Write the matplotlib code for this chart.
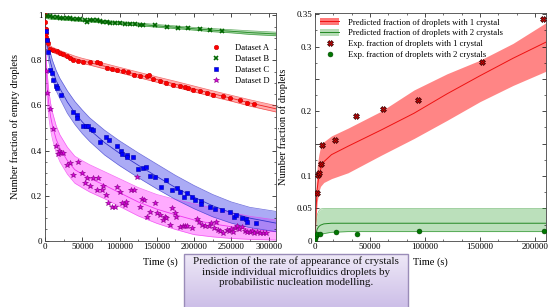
import numpy as np
import matplotlib
matplotlib.use('Agg')
import matplotlib.pyplot as plt
from matplotlib.patches import Patch, Rectangle
from matplotlib.lines import Line2D
from matplotlib.ticker import MultipleLocator

plt.rcParams['font.family'] = ['Liberation Serif', 'DejaVu Serif']
plt.rcParams['mathtext.fontset'] = 'stix'

# ---- left panel: fraction of empty droplets ----
t_model = [0, 1000, 2000, 3000, 5000, 7500, 10000, 15000, 20000, 30000, 40000, 50000,
           60000, 80000, 100000, 125000, 150000, 175000, 200000, 225000, 250000, 275000, 310000]

a_mid = [1.0, 0.93, 0.9, 0.88, 0.862, 0.853, 0.847, 0.840, 0.833, 0.820, 0.808, 0.798,
         0.790, 0.774, 0.757, 0.736, 0.715, 0.694, 0.673, 0.652, 0.632, 0.611, 0.585]
a_up = [1.0, 0.94, 0.91, 0.89, 0.873, 0.864, 0.858, 0.851, 0.844, 0.831, 0.819, 0.809,
        0.801, 0.786, 0.769, 0.748, 0.727, 0.707, 0.686, 0.665, 0.645, 0.625, 0.599]
a_lo = [1.0, 0.92, 0.89, 0.87, 0.851, 0.842, 0.836, 0.829, 0.822, 0.809, 0.797, 0.787,
        0.779, 0.762, 0.745, 0.724, 0.703, 0.681, 0.66, 0.639, 0.619, 0.597, 0.571]

b_mid = [1.0, 0.993, 0.992, 0.991, 0.99, 0.989, 0.988, 0.987, 0.986, 0.983, 0.981, 0.978,
         0.976, 0.971, 0.966, 0.96, 0.953, 0.947, 0.94, 0.934, 0.929, 0.923, 0.917]
b_up = [1.0, 0.999, 0.998, 0.997, 0.996, 0.995, 0.994, 0.993, 0.992, 0.989, 0.987, 0.984,
        0.982, 0.977, 0.972, 0.966, 0.959, 0.953, 0.946, 0.941, 0.936, 0.931, 0.925]
b_lo = [1.0, 0.987, 0.986, 0.985, 0.984, 0.983, 0.982, 0.981, 0.98, 0.977, 0.975, 0.972,
        0.97, 0.965, 0.96, 0.954, 0.947, 0.941, 0.934, 0.927, 0.922, 0.915, 0.909]

c_mid = [1.0, 0.93, 0.895, 0.87, 0.83, 0.79, 0.76, 0.71, 0.675, 0.615, 0.567, 0.527,
         0.492, 0.435, 0.388, 0.335, 0.285, 0.236, 0.193, 0.155, 0.124, 0.1, 0.078]
c_up = [1.0, 0.95, 0.92, 0.9, 0.865, 0.83, 0.8, 0.755, 0.72, 0.665, 0.618, 0.58,
        0.545, 0.49, 0.443, 0.39, 0.34, 0.29, 0.245, 0.205, 0.172, 0.148, 0.13]
c_lo = [1.0, 0.91, 0.87, 0.84, 0.795, 0.75, 0.72, 0.665, 0.63, 0.565, 0.516, 0.475,
        0.44, 0.38, 0.333, 0.28, 0.23, 0.183, 0.142, 0.106, 0.078, 0.058, 0.04]

d_mid = [1.0, 0.82, 0.74, 0.68, 0.61, 0.55, 0.51, 0.45, 0.41, 0.355, 0.315, 0.295,
         0.277, 0.246, 0.213, 0.172, 0.14, 0.115, 0.092, 0.075, 0.062, 0.051, 0.04]
d_up = [1.0, 0.86, 0.79, 0.74, 0.67, 0.61, 0.57, 0.51, 0.47, 0.415, 0.375, 0.355,
        0.337, 0.306, 0.275, 0.236, 0.205, 0.183, 0.164, 0.145, 0.125, 0.108, 0.092]
d_lo = [1.0, 0.78, 0.69, 0.62, 0.55, 0.49, 0.45, 0.39, 0.35, 0.295, 0.255, 0.235,
        0.216, 0.186, 0.152, 0.11, 0.077, 0.05, 0.027, 0.017, 0.01, 0.006, 0.003]

# experimental points
a_t = [0, 500, 1000, 1500, 2000, 3000, 4000, 6700, 11200, 15700, 20100, 24600, 29100, 33500,
       38000, 44700, 51400, 60400, 69300, 73800, 82800, 89500, 96200, 105000, 112000, 119000,
       128000, 137000, 139000, 145000, 154000, 163000, 172000, 181000, 188000, 192000, 199000,
       208000, 217000, 226000, 239000, 248000, 262000, 271000, 280000]
a_v = [1.0, 0.97, 0.94, 0.92, 0.905, 0.89, 0.875, 0.851, 0.845, 0.840, 0.833, 0.826, 0.818, 0.811,
       0.803, 0.796, 0.794, 0.793, 0.791, 0.788, 0.766, 0.761, 0.758, 0.751, 0.748, 0.736,
       0.732, 0.729, 0.735, 0.717, 0.707, 0.699, 0.692, 0.685, 0.682, 0.677, 0.670,
       0.662, 0.655, 0.648, 0.640, 0.633, 0.625, 0.613, 0.606]

b_t = [2240, 6710, 11180, 15660, 20130, 24600, 29080, 33550, 38030, 42500, 46980, 53690, 56820,
       60400, 64870, 69340, 73820, 78290, 82760, 87240, 93950, 100660, 107370, 114080, 120790,
       127500, 131970, 147630, 163290, 178940, 192360, 208020, 221440, 237100]
b_v = [0.998, 0.996, 0.993, 0.991, 0.99, 0.988, 0.987, 0.987, 0.985, 0.984, 0.984, 0.978, 0.969,
       0.981, 0.981, 0.978, 0.975, 0.972, 0.969, 0.966, 0.966, 0.964, 0.963, 0.961, 0.96,
       0.958, 0.957, 0.958, 0.948, 0.945, 0.942, 0.939, 0.936, 0.929]

c_t = [1000, 2500, 4500, 6700, 9000, 11000, 14800, 16000, 22000, 37000, 42500, 43000, 51000, 55000,
       58000, 62000, 64000, 74000, 82000, 86000, 96000, 102000, 103000, 110000, 110500, 118500,
       125000, 132000, 136000, 141000, 148000, 155000, 162000, 170000, 177500, 181000, 187000,
       190000, 197000, 201000, 209000, 210000, 221000, 228000, 237000, 248000, 253000, 256000,
       264000, 270000, 271000, 283000]
c_v = [0.93, 0.89, 0.837, 0.759, 0.744, 0.714, 0.688, 0.677, 0.648, 0.569, 0.559, 0.544, 0.51, 0.51,
       0.508, 0.497, 0.493, 0.436, 0.458, 0.445, 0.418, 0.396, 0.385, 0.38, 0.373, 0.373,
       0.317, 0.322, 0.329, 0.288, 0.284, 0.24, 0.27, 0.225, 0.233, 0.218, 0.196,
       0.21, 0.196, 0.181, 0.175, 0.162, 0.151, 0.14, 0.136, 0.129, 0.107, 0.115,
       0.1, 0.095, 0.085, 0.08]

d_t = [1300, 3100, 6700, 11000, 14800, 17900, 19000, 22000, 24600, 29000, 33500, 38000, 44700,
       49000, 53700, 56800, 60400, 64000, 69400, 71500, 76000, 78000, 81900, 85000, 89500, 94000,
       96000, 100600, 103000, 107000, 109000, 116000, 119000, 123000, 127500, 130000, 133000,
       136500, 141000, 147600, 150700, 154000, 158000, 161000, 163000, 167700, 170000, 174500,
       176000, 181000, 185000, 188000, 191000, 197000, 203500, 207000, 211000, 214600, 220000,
       223000, 227000, 229700, 232000, 235000, 239000, 244000, 247000, 250000, 252000, 255000,
       258000, 260000, 264000, 268000, 271000, 275000, 278000, 281000, 285000, 288000, 292000, 296000]
d_v = [0.751, 0.655, 0.584, 0.495, 0.421, 0.385, 0.396, 0.39, 0.388, 0.336, 0.344, 0.292, 0.347,
       0.3, 0.255, 0.277, 0.243, 0.277, 0.225, 0.277, 0.225, 0.243, 0.203, 0.166, 0.151, 0.148,
       0.237, 0.218, 0.169, 0.159, 0.17, 0.225, 0.225, 0.284, 0.151, 0.184, 0.18,
       0.107, 0.129, 0.166, 0.122, 0.113, 0.092, 0.107, 0.1, 0.07, 0.144, 0.122,
       0.107, 0.062, 0.065, 0.063, 0.063, 0.056, 0.096, 0.085, 0.07, 0.063, 0.063,
       0.078, 0.056, 0.081, 0.047, 0.041, 0.036, 0.048, 0.045, 0.05, 0.04, 0.055,
       0.063, 0.05, 0.059, 0.044, 0.04, 0.04, 0.045, 0.036, 0.04, 0.036, 0.033, 0.033]

# ---- right panel: fraction of droplets with 1 / 2 crystals ----
t_pred = [0, 1000, 2000, 3500, 5000, 8000, 15000, 30000, 60000, 90000, 120000, 150000, 180000, 210000]
p1_mid = [0, 0.05, 0.08, 0.1, 0.11, 0.122, 0.133, 0.146, 0.171, 0.197, 0.227, 0.255, 0.282, 0.307]
p1_up = [0, 0.09, 0.115, 0.133, 0.145, 0.153, 0.162, 0.174, 0.2, 0.233, 0.258, 0.279, 0.305, 0.337]
p1_lo = [0, 0.035, 0.06, 0.076, 0.084, 0.09, 0.096, 0.105, 0.132, 0.158, 0.186, 0.215, 0.24, 0.262]
p2_mid = [0, 0.012, 0.018, 0.022, 0.024, 0.026, 0.027, 0.027, 0.027, 0.027, 0.027, 0.027, 0.027, 0.027]
p2_up = [0, 0.03, 0.04, 0.046, 0.049, 0.05, 0.05, 0.05, 0.05, 0.05, 0.05, 0.05, 0.05, 0.05]
p2_lo = [0, 0.003, 0.005, 0.007, 0.009, 0.011, 0.013, 0.014, 0.014, 0.014, 0.014, 0.014, 0.014, 0.014]

e1_t = [2100, 2700, 3600, 5800, 6700, 17900, 37000, 62000, 94000, 152000, 207500]
e1_v = [0.073, 0.101, 0.104, 0.118, 0.148, 0.155, 0.193, 0.203, 0.218, 0.276, 0.343]
e2_t = [300, 600, 2100, 4500, 18800, 37900, 94500, 208000]
e2_v = [0.002, 0.007, 0.01, 0.0105, 0.0134, 0.0103, 0.0155, 0.015]

caption = ('Prediction of the rate of appearance of crystals\n'
           'inside individual microfluidics droplets by\n'
           'probabilistic nucleation modelling.')

fig = plt.figure(figsize=(5.56, 3.07), dpi=100)
fig.patch.set_facecolor('white')

W, H = 556.0, 307.0
ax1 = fig.add_axes([45 / W, 1 - 240.7 / H, 231 / W, 227.7 / H])
ax2 = fig.add_axes([315 / W, 1 - 240.7 / H, 231 / W, 227.7 / H])


def band(ax, t, lo, mid, up, fill, line, alpha):
    ax.fill_between(t, lo, up, color=fill, alpha=alpha, lw=0, zorder=1)
    ax.plot(t, lo, color=line, lw=0.5, alpha=0.7, zorder=2)
    ax.plot(t, up, color=line, lw=0.5, alpha=0.7, zorder=2)
    ax.plot(t, mid, color=line, lw=0.6, zorder=2)


# left bands
band(ax1, t_model, d_lo, d_mid, d_up, '#ff66ff', '#ee33ee', 0.55)
band(ax1, t_model, c_lo, c_mid, c_up, '#6666ee', '#3333cc', 0.55)
band(ax1, t_model, a_lo, a_mid, a_up, '#ff7777', '#ee2222', 0.6)
band(ax1, t_model, b_lo, b_mid, b_up, '#66bb66', '#228822', 0.6)

ax1.plot(a_t, a_v, 'o', ms=3.2, mfc='#ff0000', mec='#cc0000', mew=0.4, ls='none', zorder=3, label='Dataset A')
ax1.plot(b_t, b_v, 'x', ms=3.2, color='#006600', mew=1.2, ls='none', zorder=3, label='Dataset B')
ax1.plot(c_t, c_v, 's', ms=3.2, mfc='#0000ff', mec='#0000aa', mew=0.4, ls='none', zorder=3, label='Dataset C')
ax1.plot(d_t, d_v, '*', ms=4.2, mfc='#dd00dd', mec='#880088', mew=0.4, ls='none', zorder=3, label='Dataset D')

ax1.set_xlim(0, 310000)
ax1.set_ylim(0, 1.01)
ax1.set_xticks([0, 50000, 100000, 150000, 200000, 250000, 300000])
ax1.set_xticklabels(['0', '50000', '100000', '150000', '200000', '250000', '300000'])
ax1.set_yticks([0, 0.2, 0.4, 0.6, 0.8, 1.0])
ax1.set_yticklabels(['0', '0.2', '0.4', '0.6', '0.8', '1'])
ax1.xaxis.set_minor_locator(MultipleLocator(25000))
ax1.yaxis.set_minor_locator(MultipleLocator(0.05))
ax1.set_xlabel('Time (s)', fontsize=7.5, labelpad=4)
ax1.set_ylabel('Number fraction of empty droplets', fontsize=7.5, labelpad=8)

leg1 = ax1.legend(loc='upper right', bbox_to_anchor=(1.0, 0.89), frameon=False, fontsize=6.2,
                  handlelength=1.2, handletextpad=1.6, labelspacing=0.35, borderpad=0.2)

# right bands
ax2.fill_between(t_pred, p2_lo, p2_up, color='#8fcc8f', alpha=0.6, lw=0, zorder=1)
ax2.plot(t_pred, p2_lo, color='#339933', lw=0.5, zorder=2)
ax2.plot(t_pred, p2_up, color='#339933', lw=0.5, alpha=0.6, zorder=2)
ax2.plot(t_pred, p2_mid, color='#228822', lw=0.7, zorder=2)
ax2.fill_between(t_pred, p1_lo, p1_up, color='#ff7878', alpha=0.9, lw=0, zorder=1)
ax2.plot(t_pred, p1_mid, color='#ee1111', lw=0.7, zorder=2)

ax2.plot(e1_t, e1_v, 'X', ms=4, mfc='#cc0000', mec='#330000', mew=0.5, ls='none', zorder=3)
ax2.plot(e2_t, e2_v, 'o', ms=3.5, mfc='#007700', mec='#004400', mew=0.4, ls='none', zorder=3)

ax2.set_xlim(0, 210000)
ax2.set_ylim(0, 0.352)
ax2.set_xticks([0, 50000, 100000, 150000, 200000])
ax2.set_xticklabels(['0', '50000', '100000', '150000', '200000'])
ax2.set_yticks([0, 0.05, 0.1, 0.15, 0.2, 0.25, 0.3, 0.35])
ax2.set_yticklabels(['0', '0.05', '0.1', '', '0.2', '', '0.3', '0.35'])
ax2.xaxis.set_minor_locator(MultipleLocator(50000 / 3))
ax2.yaxis.set_minor_locator(MultipleLocator(0.025))
ax2.set_xlabel('Time (s)', fontsize=7.5, labelpad=4)
ax2.set_ylabel('Number fraction of droplets', fontsize=7.5, labelpad=6)

h1 = (Patch(facecolor='#ff7878', edgecolor='none'), Line2D([], [], color='#ee1111', lw=0.7))
h2 = (Patch(facecolor='#b5dcb5', edgecolor='none'), Line2D([], [], color='#228822', lw=0.7))
h3 = Line2D([], [], marker='X', ms=4, mfc='#cc0000', mec='#330000', mew=0.5, ls='none')
h4 = Line2D([], [], marker='o', ms=3.5, mfc='#007700', mec='#004400', mew=0.4, ls='none')
ax2.legend([h1, h2, h3, h4],
           ['Predicted fraction of droplets with 1 crystal',
            'Predicted fraction of droplets with 2 crystals',
            'Exp. fraction of droplets with 1 crystal',
            'Exp. fraction of droplets with 2 crystals'],
           loc='upper left', bbox_to_anchor=(0.0, 1.0), frameon=False, fontsize=6.2,
           handlelength=2.2, handleheight=0.9, handletextpad=1.0, labelspacing=0.25, borderpad=0.1)

for ax in (ax1, ax2):
    ax.tick_params(which='both', direction='in', top=True, right=True, labelsize=6.5, pad=2)
    ax.tick_params(which='major', length=3, width=0.5)
    ax.tick_params(which='minor', length=1.5, width=0.4)
    for s in ax.spines.values():
        s.set_linewidth(0.6)
        s.set_color('#444444')

# caption box with a soft purple gradient
cax = fig.add_axes([184 / W, 0, 224 / W, 53 / H])
grad = np.linspace(0, 1, 64).reshape(-1, 1)
cmap = matplotlib.colors.LinearSegmentedColormap.from_list('lav', ['#eee8f7', '#cdbfe8'])
cax.imshow(grad, aspect='auto', cmap=cmap, extent=(0, 1, 0, 1), origin='upper')
cax.add_patch(Rectangle((0, -0.05), 1, 1.05, fill=False, ec='#9a8cb8', lw=1.0,
                        transform=cax.transAxes, clip_on=False))
cax.set_xlim(0, 1)
cax.set_ylim(0, 1)
cax.axis('off')
cax.text(0.5, 0.95, caption, ha='center', va='top', fontsize=7.9, linespacing=1.15,
         color='#111111', transform=cax.transAxes)

fig.savefig('out.png', dpi=100)
